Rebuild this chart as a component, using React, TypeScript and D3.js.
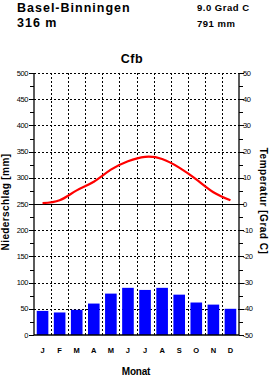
import React from "react";
import * as d3 from "d3";

const months = ["J", "F", "M", "A", "M", "J", "J", "A", "S", "O", "N", "D"];
const precip = [46, 43, 48, 60, 79, 90, 86, 90, 77, 62, 58, 50];
const temp = [0.3, 1.4, 5.2, 8.5, 13.1, 16.3, 18.0, 17.2, 13.9, 9.4, 4.5, 1.4];
const precipTicks = [0, 50, 100, 150, 200, 250, 300, 350, 400, 450, 500];
const tempTicks = [-50, -40, -30, -20, -10, 0, 10, 20, 30, 40, 50];

const W = 270;
const H = 378;
const left = 34;
const right = 239;
const top = 73;
const bottom = 335;
const font = "'Liberation Sans', Arial, sans-serif";

export default function App() {
  const idx = months.map((_, i) => i);
  const x = d3.scaleBand<number>().domain(idx).range([left, right]);
  const yP = d3.scaleLinear().domain([0, 500]).range([bottom, top]);
  const yT = d3.scaleLinear().domain([-50, 50]).range([bottom, top]);
  const bw = x.bandwidth() * 0.68;
  const cx = (i: number) => (x(i) as number) + x.bandwidth() / 2;

  const line = d3
    .line<number>()
    .x((_, i) => cx(i))
    .y((d) => yT(d))
    .curve(d3.curveNatural);

  const minor = d3.range(25, 500, 50);
  const minorT = d3.range(-45, 50, 10);

  return (
    <div style={{ position: "absolute", left: 0, top: 0 }}>
      <svg width={W} height={H} style={{ display: "block" }} fontFamily={font}>
        <rect width={W} height={H} fill="#fff" />
        <text x={17} y={11.5} fontSize={12.5} fontWeight="bold" letterSpacing={1}>Basel-Binningen</text>
        <text x={17} y={27} fontSize={12.5} fontWeight="bold" letterSpacing={1}>316 m</text>
        <text x={197} y={10.5} fontSize={9.5} fontWeight="bold" letterSpacing={0.5}>9.0 Grad C</text>
        <text x={197} y={26.5} fontSize={9.5} fontWeight="bold" letterSpacing={0.5}>791 mm</text>
        <text x={132} y={63} fontSize={12.5} fontWeight="bold" textAnchor="middle" letterSpacing={0.5}>Cfb</text>

        {/* grid */}
        <g stroke="#000" strokeWidth={1} strokeDasharray="2,2">
          {precipTicks.slice(1).map((t) => (
            <line key={"h" + t} x1={left} x2={right} y1={Math.round(yP(t)) + 0.5} y2={Math.round(yP(t)) + 0.5} />
          ))}
          {idx.slice(1).map((i) => (
            <line key={"v" + i} x1={Math.round(x(i) as number) + 0.5} x2={Math.round(x(i) as number) + 0.5} y1={top} y2={bottom} />
          ))}
        </g>

        {/* bars */}
        {precip.map((p, i) => (
          <rect key={"b" + i} x={cx(i) - bw / 2} y={yP(p)} width={bw} height={bottom - yP(p)} fill="#0000ff" />
        ))}

        {/* zero temperature line */}
        <line x1={left} x2={right} y1={Math.round(yT(0)) + 0.5} y2={Math.round(yT(0)) + 0.5} stroke="#000" strokeWidth={1.2} />

        <path d={line(temp) || ""} fill="none" stroke="#ff0000" strokeWidth={2.2} />

        {/* axes */}
        <g stroke="#000" strokeWidth={1.3}>
          <line x1={left} x2={left} y1={top} y2={bottom} />
          <line x1={right} x2={right} y1={top} y2={bottom} />
          <line x1={left} x2={right} y1={bottom} y2={bottom} />
        </g>
        <g stroke="#000" strokeWidth={1}>
          {precipTicks.map((t) => (
            <line key={"lt" + t} x1={left - 5} x2={left} y1={Math.round(yP(t)) + 0.5} y2={Math.round(yP(t)) + 0.5} />
          ))}
          {minor.map((t) => (
            <line key={"lm" + t} x1={left - 4} x2={left} y1={Math.round(yP(t)) + 0.5} y2={Math.round(yP(t)) + 0.5} />
          ))}
          {tempTicks.map((t) => (
            <line key={"rt" + t} x1={right} x2={right + 5} y1={Math.round(yT(t)) + 0.5} y2={Math.round(yT(t)) + 0.5} />
          ))}
          {minorT.map((t) => (
            <line key={"rm" + t} x1={right} x2={right + 4} y1={Math.round(yT(t)) + 0.5} y2={Math.round(yT(t)) + 0.5} />
          ))}
        </g>
        <g fontSize={7.5} letterSpacing={-0.4}>
          {precipTicks.map((t) => (
            <text key={"ll" + t} x={left - 6} y={yP(t) + 2.6} textAnchor="end">{t}</text>
          ))}
          {tempTicks.map((t) => (
            <text key={"rl" + t} x={right + 4} y={yT(t) + 2.6}>{t}</text>
          ))}
        </g>

        {months.map((m, i) => (
          <text key={"m" + i} x={cx(i)} y={353} fontSize={7.5} fontWeight="bold" textAnchor="middle">{m}</text>
        ))}
        <text x={136} y={375} fontSize={10} fontWeight="bold" textAnchor="middle" letterSpacing={-0.2}>Monat</text>

        <text transform={`translate(9,${(top + bottom) / 2 - 2}) rotate(-90)`} fontSize={10} fontWeight="bold" textAnchor="middle" letterSpacing={0.4}>Niederschlag [mm]</text>
        <text transform={`translate(260,${(top + bottom) / 2 - 3}) rotate(90)`} fontSize={10} fontWeight="bold" textAnchor="middle" letterSpacing={0.5}>Temperatur [Grad C]</text>
      </svg>
    </div>
  );
}
